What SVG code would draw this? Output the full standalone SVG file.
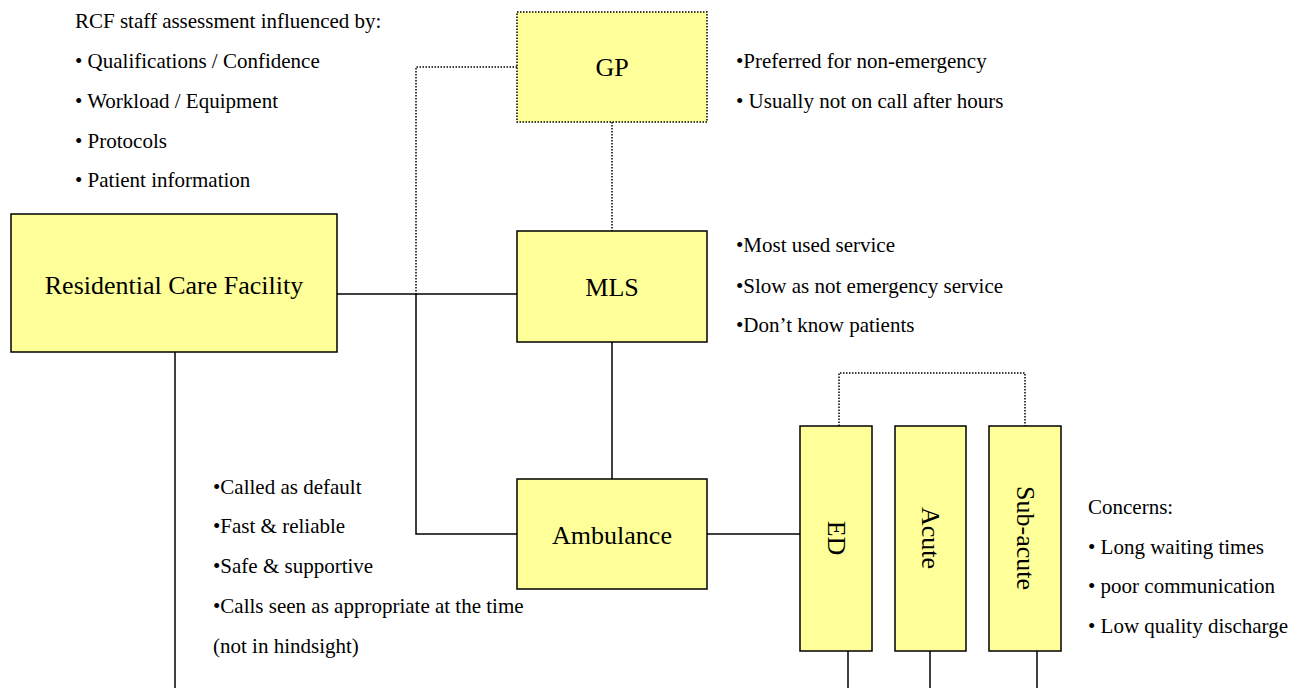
<svg xmlns="http://www.w3.org/2000/svg" width="1300" height="688" viewBox="0 0 1300 688">
<style>
.box{fill:#ffff99;stroke:#000;stroke-width:1.5}
.dbox{fill:#ffff99;stroke:#000;stroke-width:1.5;stroke-dasharray:1.5 1.5}
.ln{fill:none;stroke:#000;stroke-width:1.5}
.dl{fill:none;stroke:#000;stroke-width:1.5;stroke-dasharray:1.5 1.5}
.lbl{font-family:'Liberation Serif',serif;font-size:26px;text-anchor:middle;dominant-baseline:central;fill:#000}
.t{font-family:'Liberation Serif',serif;font-size:21px;fill:#000}
</style>
<rect width="1300" height="688" fill="#fff"/>
<g id="connectors">
<polyline class="dl" points="517,67 416,67 416,294"/>
<line class="dl" x1="612" y1="122" x2="612" y2="231"/>
<line class="ln" x1="337" y1="294" x2="523" y2="294"/>
<polyline class="ln" points="416,294 416,534 517,534"/>
<line class="ln" x1="612" y1="342" x2="612" y2="479"/>
<line class="ln" x1="707" y1="534" x2="800" y2="534"/>
<line class="ln" x1="175" y1="352" x2="175" y2="688"/>
<polyline class="dl" points="839,426 839,373 1025,373 1025,426"/>
<line class="ln" x1="848" y1="651" x2="848" y2="688"/>
<line class="ln" x1="930" y1="651" x2="930" y2="688"/>
<line class="ln" x1="1037" y1="651" x2="1037" y2="688"/>
</g>
<g id="rcf">
<rect class="box" x="11" y="214" width="326" height="138"/>
<text class="lbl" x="174" y="285">Residential Care Facility</text>
</g>
<g id="gp">
<rect class="dbox" x="517" y="12" width="190" height="110"/>
<text class="lbl" x="612" y="67">GP</text>
</g>
<g id="mls">
<rect class="box" x="517" y="231" width="190" height="111"/>
<text class="lbl" x="612" y="287">MLS</text>
</g>
<g id="ambulance">
<rect class="box" x="517" y="479" width="190" height="110"/>
<text class="lbl" x="612" y="535">Ambulance</text>
</g>
<g id="ed">
<rect class="box" x="800" y="426" width="72" height="225"/>
<text class="lbl" transform="translate(836,538) rotate(90)">ED</text>
</g>
<g id="acute">
<rect class="box" x="895" y="426" width="71" height="225"/>
<text class="lbl" transform="translate(930,538) rotate(90)">Acute</text>
</g>
<g id="subacute">
<rect class="box" x="989" y="426" width="72" height="225"/>
<text class="lbl" transform="translate(1025,538) rotate(90)">Sub-acute</text>
</g>
<g id="notes">
<text class="t" x="75" y="28">RCF staff assessment influenced by:</text>
<text class="t" x="75" y="68">• Qualifications / Confidence</text>
<text class="t" x="75" y="108">• Workload / Equipment</text>
<text class="t" x="75" y="148">• Protocols</text>
<text class="t" x="75" y="187">• Patient information</text>
<text class="t" x="736" y="68">•Preferred for non-emergency</text>
<text class="t" x="736" y="108">• Usually not on call after hours</text>
<text class="t" x="736" y="252">•Most used service</text>
<text class="t" x="736" y="293">•Slow as not emergency service</text>
<text class="t" x="736" y="332">•Don’t know patients</text>
<text class="t" x="213" y="494">•Called as default</text>
<text class="t" x="213" y="533">•Fast &amp; reliable</text>
<text class="t" x="213" y="573">•Safe &amp; supportive</text>
<text class="t" x="213" y="613">•Calls seen as appropriate at the time</text>
<text class="t" x="213" y="653">(not in hindsight)</text>
<text class="t" x="1088" y="514">Concerns:</text>
<text class="t" x="1088" y="554">• Long waiting times</text>
<text class="t" x="1088" y="593">• poor communication</text>
<text class="t" x="1088" y="633">• Low quality discharge</text>
</g>
</svg>
